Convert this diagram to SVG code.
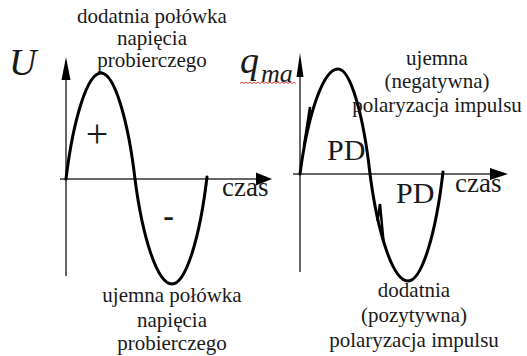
<svg xmlns="http://www.w3.org/2000/svg" width="527" height="356" viewBox="0 0 527 356">
<style>
text{font-family:'Liberation Serif','Times New Roman','DejaVu Serif',serif;fill:#1a1a1a}
.lab{font-size:21px;text-anchor:middle}
.ax{stroke:#333;stroke-width:1.5;fill:none}
.wave{stroke:#000;stroke-width:3;fill:none;stroke-linejoin:round;stroke-linecap:round}
.spk{stroke:#000;stroke-width:2.5;fill:none;stroke-linejoin:miter}
.ah{fill:#000}
</style>
<rect width="527" height="356" fill="#fff"/>
<g id="connectors">
  <line class="ax" x1="60" y1="179" x2="258" y2="179"/>
  <polygon class="ah" points="256,172.5 272,179 256,185.5"/>
  <line class="ax" x1="66" y1="78" x2="66" y2="276"/>
  <polygon class="ah" points="61.5,80 66,57 70.5,80"/>
  <line class="ax" x1="293" y1="174" x2="492" y2="174"/>
  <polygon class="ah" points="490,168 508,174 490,180"/>
  <line class="ax" x1="300" y1="75" x2="300" y2="272"/>
  <polygon class="ah" points="296.5,77 300,53 303.5,77"/>
</g>
<g id="wave-left">
  <path class="wave" d="M66,179 C73,121 87,73 101,73 C114.6,73 128.2,121 135,179 C142.4,236.8 157.2,284 172,284 C186,284 200,236.8 207,177"/>
</g>
<g id="wave-right">
  <path class="wave" d="M300,174 C307.6,116.2 322.8,69 338,69 C350.8,69 363.6,116.2 370,174 C377.6,232.9 392.8,281 408,281 C422,281 436,232.9 443,172"/>
  <path class="spk" d="M308.5,127 L310,107 L304,146"/>
  <path class="spk" d="M377.5,221 L380,204 L383.5,241"/>
</g>
<g id="label-U"><text x="9" y="75" font-size="38" font-style="italic">U</text></g>
<g id="label-q">
  <text x="240" y="73" font-size="38" font-style="italic">q</text>
  <text x="261" y="82" font-size="26" font-style="italic">ma</text>
  <path d="M240,83.5 l2,-1.5 l2,1.5 l2,-1.5 l2,1.5 l2,-1.5 l2,1.5 l2,-1.5 l2,1.5 l2,-1.5 l2,1.5 l2,-1.5 l2,1.5 l2,-1.5 l2,1.5 l2,-1.5 l2,1.5 l2,-1.5 l2,1.5 l2,-1.5 l2,1.5 l2,-1.5 l2,1.5 l2,-1.5 l2,1.5 l2,-1.5 l2,1.5 l2,-1.5 l2,1.5" stroke="#e04040" stroke-width="1" fill="none"/>
</g>
<g id="label-pos-half">
  <text class="lab" x="152" y="23">dodatnia połówka</text>
  <text class="lab" x="152" y="45">napięcia</text>
  <text class="lab" x="152" y="67">probierczego</text>
</g>
<g id="label-neg-half">
  <text class="lab" x="172" y="302">ujemna połówka</text>
  <text class="lab" x="172" y="327">napięcia</text>
  <text class="lab" x="172" y="350">probierczego</text>
</g>
<g id="label-plus"><text x="97" y="147" font-size="40" text-anchor="middle">+</text></g>
<g id="label-minus"><text x="168.5" y="226" font-size="32" font-weight="bold" text-anchor="middle">-</text></g>
<g id="label-czas-left"><text x="222" y="196" font-size="27">czas</text></g>
<g id="label-czas-right"><text x="455" y="192" font-size="27">czas</text></g>
<g id="label-PD-up"><text x="327" y="160" font-size="30">PD</text></g>
<g id="label-PD-down"><text x="396" y="203" font-size="30">PD</text></g>
<g id="label-neg-pol">
  <text class="lab" x="437" y="65">ujemna</text>
  <text class="lab" x="437" y="88">(negatywna)</text>
  <text class="lab" x="437" y="112">polaryzacja impulsu</text>
</g>
<g id="label-pos-pol">
  <text class="lab" x="414" y="297">dodatnia</text>
  <text class="lab" x="414" y="322">(pozytywna)</text>
  <text class="lab" x="414" y="347">polaryzacja impulsu</text>
</g>
</svg>
